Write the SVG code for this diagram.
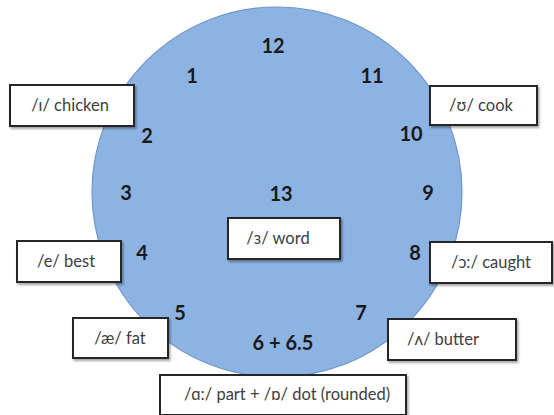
<svg xmlns="http://www.w3.org/2000/svg" width="554" height="415" viewBox="0 0 554 415">
  <defs>
    <filter id="shadow" x="-10%" y="-10%" width="130%" height="140%">
      <feDropShadow dx="1.5" dy="2" stdDeviation="1.2" flood-color="#000" flood-opacity="0.35"/>
    </filter>
    <style>
      .dial { fill: #8db3e2; stroke: #6f95c9; stroke-width: 1.2; }
      .num { font-family: Lato, "Liberation Sans", sans-serif; font-weight: bold; font-size: 20px; fill: #1a1a1a; text-anchor: middle; }
      .box { fill: #ffffff; stroke: #262626; stroke-width: 2; filter: url(#shadow); }
      .lbl { font-family: Lato, "Liberation Sans", "DejaVu Sans", sans-serif; font-size: 16.5px; fill: #404040; text-anchor: middle; }
    </style>
  </defs>

  <!-- clock face -->
  <g id="clock-face">
    <circle class="dial" cx="277" cy="192" r="185"/>
  </g>

  <!-- hour numbers -->
  <g id="hours">
    <text class="num" x="273" y="53">12</text>
    <text class="num" x="192" y="83">1</text>
    <text class="num" x="372" y="83">11</text>
    <text class="num" x="147" y="143">2</text>
    <text class="num" x="411" y="141">10</text>
    <text class="num" x="126" y="200">3</text>
    <text class="num" x="428" y="200">9</text>
    <text class="num" x="142" y="260">4</text>
    <text class="num" x="415" y="260">8</text>
    <text class="num" x="180" y="320">5</text>
    <text class="num" x="361" y="320">7</text>
    <text class="num" x="283" y="350">6 + 6.5</text>
    <text class="num" x="281" y="201">13</text>
  </g>

  <!-- vowel labels -->
  <g id="node-chicken">
    <rect class="box" x="10" y="85" width="124" height="41"/>
    <text class="lbl" x="70" y="111">/ɪ/ chicken</text>
  </g>
  <g id="node-cook">
    <rect class="box" x="430" y="86" width="107" height="39"/>
    <text class="lbl" x="481" y="111">/ʊ/ cook</text>
  </g>
  <g id="node-best">
    <rect class="box" x="17" y="241" width="104" height="41"/>
    <text class="lbl" x="66" y="267">/e/ best</text>
  </g>
  <g id="node-caught">
    <rect class="box" x="430" y="242" width="122" height="41"/>
    <text class="lbl" x="491" y="268">/ɔ:/ caught</text>
  </g>
  <g id="node-word">
    <rect class="box" x="228" y="218" width="112" height="41"/>
    <text class="lbl" x="278" y="244">/ɜ/ word</text>
  </g>
  <g id="node-fat">
    <rect class="box" x="73" y="318" width="95" height="40"/>
    <text class="lbl" x="120" y="344">/æ/ fat</text>
  </g>
  <g id="node-butter">
    <rect class="box" x="388" y="319" width="128" height="41"/>
    <text class="lbl" x="443" y="345">/ʌ/ butter</text>
  </g>
  <g id="node-part-dot">
    <rect class="box" x="160" y="375" width="246" height="40"/>
    <text class="lbl" x="287" y="400">/ɑ:/ part + /ɒ/ dot (rounded)</text>
  </g>

  <g id="connectors"/>
</svg>
